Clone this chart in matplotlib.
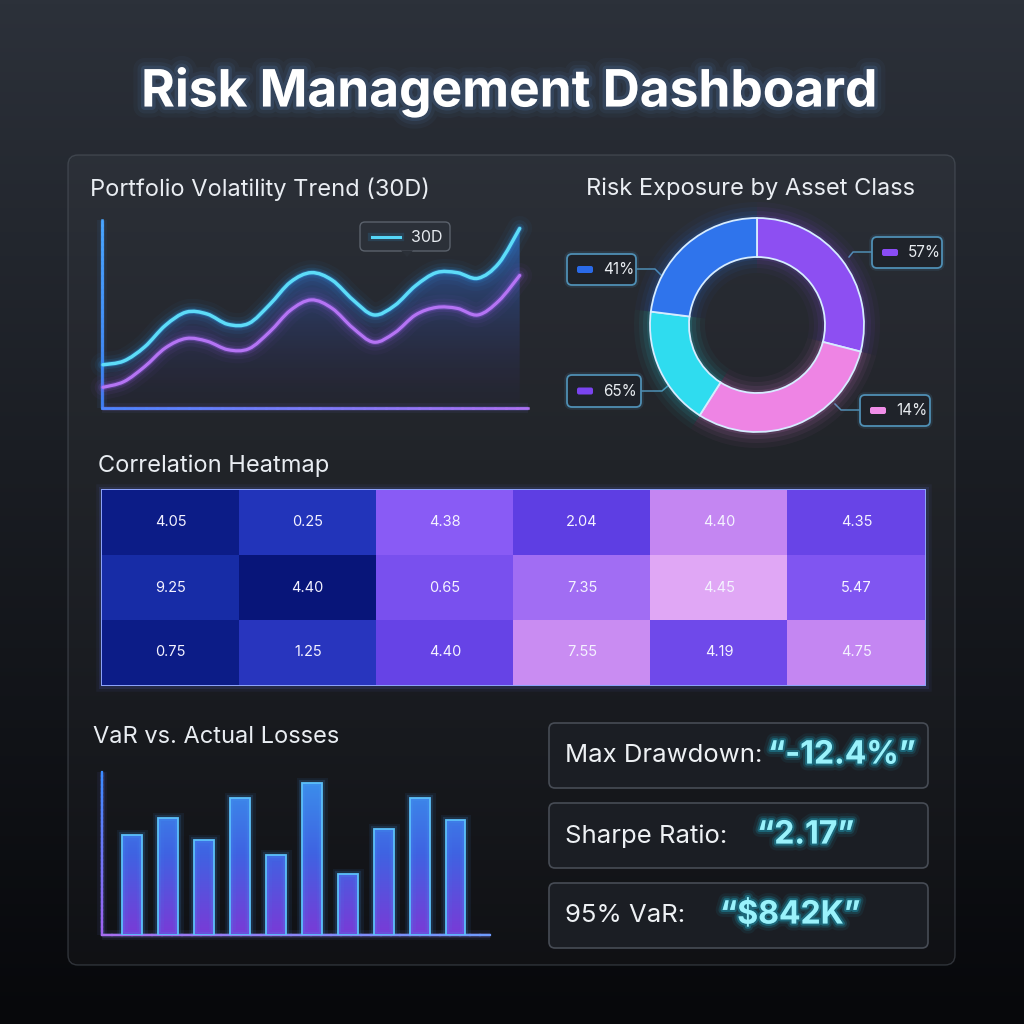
import numpy as np
import matplotlib
matplotlib.use("Agg")
import matplotlib.pyplot as plt
import matplotlib.patheffects as pe
from matplotlib.patches import FancyBboxPatch, Rectangle, Polygon, PathPatch
from matplotlib.colors import LinearSegmentedColormap, to_rgb
from matplotlib.collections import LineCollection
from matplotlib.path import Path

plt.rcParams['font.family'] = ['Inter', 'DejaVu Sans']

# ---- data ----
days = np.arange(0, 31, 1.5)
vol_30d = [4.6, 5.0, 6.5, 8.8, 10.2, 10.0, 8.9, 9.0, 11.0, 13.4, 14.4,
           13.6, 11.5, 9.9, 10.9, 13.0, 14.4, 14.4, 13.8, 15.4, 19.1]
vol_base = [2.2, 2.8, 4.4, 6.4, 7.4, 7.1, 6.2, 6.3, 8.1, 10.4, 11.5,
            10.6, 8.5, 7.0, 8.0, 9.9, 10.7, 10.6, 9.9, 11.4, 14.1]

asset_share = [29, 30, 18, 23]
asset_colors = ['#8d4ff2', '#ee84e4', '#2fdcef', '#2f74ec']
asset_labels = ['57%', '14%', '65%', '41%']
label_swatch = ['#8a4cf5', '#f08ee8', '#7a44f0', '#2a6ae8']

heat_vals = [[0.05, 0.22, 0.60, 0.42, 0.80, 0.46],
             [0.15, 0.00, 0.53, 0.68, 0.95, 0.56],
             [0.05, 0.24, 0.45, 0.83, 0.49, 0.80]]
heat_text = [["4.05", "0.25", "4.38", "2.04", "4.40", "4.35"],
             ["9.25", "4.40", "0.65", "7.35", "4.45", "5.47"],
             ["0.75", "1.25", "4.40", "7.55", "4.19", "4.75"]]

bar_days = np.arange(1, 11)
losses = [100, 117, 95, 137, 80, 152, 61, 106, 137, 115]

kpi_names = ["Max Drawdown:", "Sharpe Ratio:", "95% VaR:"]
kpi_values = ["\u201c-12.4%\u201d", "\u201c2.17\u201d", "\u201c$842K\u201d"]

W = H = 1024
fig = plt.figure(figsize=(10.24, 10.24), dpi=100)
bg = fig.add_axes([0, 0, 1, 1])
bg.set_xlim(0, W)
bg.set_ylim(H, 0)
bg.axis('off')


def px_axes(x0, y0, x1, y1):
    ax = fig.add_axes([x0 / W, 1 - y1 / H, (x1 - x0) / W, (y1 - y0) / H])
    ax.axis('off')
    return ax


def blend(c1, c2, t):
    a, b = np.array(to_rgb(c1)), np.array(to_rgb(c2))
    return a + (b - a) * t


def glow(color, widths=((10, 0.06), (6, 0.12), (3, 0.25))):
    return [pe.Stroke(linewidth=w, foreground=color, alpha=a) for w, a in widths] + [pe.Normal()]


def smooth_path(x, y):
    # curve drawn through the data points (Catmull-Rom as cubic Bezier)
    pts = np.column_stack([x, y]).astype(float)
    verts, codes = [pts[0]], [Path.MOVETO]
    n = len(pts)
    for i in range(n - 1):
        p0 = pts[i - 1] if i > 0 else pts[i]
        p1, p2 = pts[i], pts[i + 1]
        p3 = pts[i + 2] if i + 2 < n else pts[i + 1]
        verts += [p1 + (p2 - p0) / 6, p2 - (p3 - p1) / 6, p2]
        codes += [Path.CURVE4] * 3
    return verts, codes


def glow_curve(ax, xs, ys, color, halo, lw=2.0, z=3):
    verts, codes = smooth_path(xs, ys)
    path = Path(verts, codes)
    for w, a in [(18, 0.04), (12, 0.07), (7, 0.13), (4, 0.3)]:
        ax.add_patch(PathPatch(path, facecolor='none', edgecolor=halo, lw=w, alpha=a,
                               capstyle='round', clip_on=False, zorder=z))
    ax.add_patch(PathPatch(path, facecolor='none', edgecolor=color, lw=lw,
                           capstyle='round', clip_on=False, zorder=z))
    return verts, codes


def grad_line(ax, p0, p1, c0, c1, lw=1.6):
    n = 40
    xs = np.linspace(p0[0], p1[0], n)
    ys = np.linspace(p0[1], p1[1], n)
    cm = blend(c0, c1, 0.5)
    ax.plot([p0[0], p1[0]], [p0[1], p1[1]], color=cm, lw=7, alpha=0.07, solid_capstyle='butt')
    ax.plot([p0[0], p1[0]], [p0[1], p1[1]], color=cm, lw=3.5, alpha=0.15, solid_capstyle='butt')
    ax.plot([p0[0], p1[0]], [p0[1], p1[1]], color=cm, lw=lw, solid_capstyle='butt')
    segs = [[(xs[i], ys[i]), (xs[i + 1], ys[i + 1])] for i in range(n - 1)]
    cols = [blend(c0, c1, i / (n - 2)) for i in range(n - 1)]
    ax.add_collection(LineCollection(segs, colors=cols, linewidths=lw, capstyle='projecting'))


# background gradient
t = np.linspace(0, 1, 256)[:, None]
top, mid, bot = np.array(to_rgb('#2c313a')), np.array(to_rgb('#1a1d23')), np.array(to_rgb('#07080b'))
img = np.where(t[..., None] < 0.45, top + (mid - top) * (t[..., None] / 0.45),
               mid + (bot - mid) * ((t[..., None] - 0.45) / 0.55))
img = np.repeat(img, 4, axis=1)
bg.imshow(img, extent=[0, W, H, 0], aspect='auto', zorder=0)

# main panel
bg.add_patch(FancyBboxPatch((68, 155), 887, 810, boxstyle="round,pad=0,rounding_size=10",
                            facecolor='white', alpha=0.03, edgecolor='none', zorder=1))
bg.add_patch(FancyBboxPatch((68, 155), 887, 810, boxstyle="round,pad=0,rounding_size=10",
                            facecolor='none', edgecolor='#5a616b', alpha=0.45, lw=1.0, zorder=1))

# title
bg.text(509, 92, "Risk Management Dashboard", ha='center', va='center', fontsize=37,
        fontweight='bold', color='white', zorder=5,
        path_effects=glow('#5d8fd0', ((16, 0.05), (10, 0.08), (5, 0.16))))

# section titles
title_kw = dict(color='#e9edf2', fontsize=17, va='center', zorder=5)
bg.text(90, 189, "Portfolio Volatility Trend (30D)", ha='left', **title_kw)
bg.text(751, 189, "Risk Exposure by Asset Class", ha='center', **title_kw)
bg.text(98, 466, "Correlation Heatmap", ha='left', **title_kw)
bg.text(93, 737, "VaR vs. Actual Losses", ha='left', **title_kw)

# ---- line chart ----
ax_l = px_axes(102, 220, 528, 408)
ax_l.set_xlim(-0.07, 30.6)
ax_l.set_ylim(0, 20)
glow_curve(ax_l, days, vol_base, '#b574f4', '#9a5cf0', lw=2.3, z=3)
cv, cc = glow_curve(ax_l, days, vol_30d, '#5ddcf8', '#2c9cf2', lw=2.5, z=4)
fill_path = Path(cv + [(days[-1], 0), (days[0], 0), cv[0]],
                 cc + [Path.LINETO, Path.LINETO, Path.CLOSEPOLY])
fill_img = np.zeros((200, 2, 4))
c_top, c_bot = np.array(to_rgb('#2a78dc')), np.array(to_rgb('#3a2c78'))
for i in range(200):
    s = i / 199
    fill_img[i, :, :3] = c_bot + (c_top - c_bot) * s
    fill_img[i, :, 3] = 0.06 + 0.65 * s ** 1.3
im = ax_l.imshow(fill_img, extent=[-0.07, 30.6, 0, 20], origin='lower', aspect='auto', zorder=1)
im.set_clip_path(fill_path, ax_l.transData)

grad_line(bg, (102, 220), (102, 408), '#49a6ff', '#3d7df0', lw=1.8)
grad_line(bg, (102, 408), (528, 408), '#4a86ff', '#b070f0', lw=1.8)

# tooltip
bg.add_patch(FancyBboxPatch((360, 222), 90, 29, boxstyle="round,pad=0,rounding_size=5",
                            facecolor='#2b3038', edgecolor='#5b626c', lw=1.0, zorder=6))
bg.add_patch(Polygon([(401, 250.5), (413, 250.5), (407, 257)], closed=True,
                     facecolor='#2b3038', edgecolor='none', zorder=7))
bg.plot([372, 400], [237, 237], color='#55d6f7', lw=2.2, zorder=8,
        path_effects=glow('#2aa8f0', ((6, 0.15),)))
bg.text(411, 237, "30D", color='#e6eaef', fontsize=11.5, va='center', ha='left', zorder=8)

# ---- donut ----
ax_d = px_axes(627, 195, 887, 455)
R, Wd = 107, 39
for g, a in [(16, 0.04), (11, 0.06), (7, 0.08), (3, 0.12)]:
    ax_d.pie(asset_share, colors=asset_colors, startangle=90, counterclock=False, radius=R + g,
             wedgeprops=dict(width=Wd + 2 * g, edgecolor='none', alpha=a))
wedges, _ = ax_d.pie(asset_share, colors=asset_colors, startangle=90, counterclock=False, radius=R,
                     wedgeprops=dict(width=Wd, edgecolor='#d6ecff', linewidth=1.3))
ax_d.set_xlim(-130, 130)
ax_d.set_ylim(-130, 130)
ax_d.set_aspect('equal')

box_pos = [(872, 237, 942, 268), (860, 395, 930, 426), (567, 375, 641, 407), (567, 254, 636, 285)]
connectors = [[(872, 252), (853, 252), (849, 257)],
              [(860, 410), (841, 410), (835, 404)],
              [(641, 391), (662, 391), (669, 385)],
              [(636, 269), (655, 269), (661, 275)]]
for (x0, y0, x1, y1), lab, sw, con in zip(box_pos, asset_labels, label_swatch, connectors):
    bg.add_patch(FancyBboxPatch((x0, y0), x1 - x0, y1 - y0, boxstyle="round,pad=0,rounding_size=5",
                                facecolor='#1f232a', edgecolor='#4f8fb4', lw=1.3, zorder=6,
                                path_effects=[pe.Stroke(linewidth=4, foreground='#4f8fb4', alpha=0.15), pe.Normal()]))
    cy = (y0 + y1) / 2
    bg.add_patch(FancyBboxPatch((x0 + 10, cy - 3.5), 16, 7, boxstyle="round,pad=0,rounding_size=2",
                                facecolor=sw, edgecolor='none', zorder=7))
    bg.text(x0 + 36, cy, lab, color='#e8ecf0', fontsize=11, va='center', ha='left', zorder=7)
    xs, ys = zip(*con)
    bg.plot(xs, ys, color='#4f8fb4', lw=1.1, zorder=5)

# ---- heatmap ----
heat_cmap = LinearSegmentedColormap.from_list(
    'heat', ['#081579', '#1d34b6', '#5a3be2', '#8a5cf5', '#c486f2', '#e9b2f6'])
ax_h = px_axes(102, 490, 925, 685)
ax_h.imshow(heat_vals, cmap=heat_cmap, vmin=0, vmax=1, aspect='auto', interpolation='nearest')
for i, row in enumerate(heat_text):
    for j, s in enumerate(row):
        ax_h.text(j, i, s, ha='center', va='center', color='#f4f2ff', fontsize=10.5)
bg.add_patch(Rectangle((102, 490), 823, 195, facecolor='none', edgecolor='#8fa6ff', lw=1.4, zorder=6,
                       path_effects=glow('#6a7dff', ((9, 0.06), (5, 0.12)))))

# ---- bars ----
ax_b = px_axes(102, 772, 490, 935)
ax_b.set_xlim(0.165, 10.96)
ax_b.set_ylim(0, 163)
bars = ax_b.bar(bar_days, losses, width=0.556, color='none', edgecolor='#5cc0fa', lw=1.3, zorder=3)
for b in bars:
    b.set_path_effects([pe.Stroke(linewidth=8, foreground='#3f8ef0', alpha=0.08),
                        pe.Stroke(linewidth=4.5, foreground='#4aa0f5', alpha=0.15), pe.Normal()])
bar_img = np.zeros((200, 2, 3))
b_top, b_mid, b_bot = np.array(to_rgb('#3b93ec')), np.array(to_rgb('#3f63e2')), np.array(to_rgb('#7a3ad6'))
for i in range(200):
    s = i / 199
    bar_img[i, :] = b_bot + (b_mid - b_bot) * (s / 0.5) if s < 0.5 else b_mid + (b_top - b_mid) * ((s - 0.5) / 0.5)
bim = ax_b.imshow(bar_img, extent=[0.165, 10.96, 0, 163], origin='lower', aspect='auto', zorder=2)
compound = Path.make_compound_path(*[b.get_path().transformed(b.get_patch_transform()) for b in bars])
bim.set_clip_path(compound, ax_b.transData)

grad_line(bg, (102, 772), (102, 935), '#3a8cff', '#a062f0', lw=1.6)
grad_line(bg, (102, 935), (490, 935), '#a86ef0', '#6f9cff', lw=1.6)

# ---- KPI cards ----
card_y = [723, 803, 883]
value_x = [768, 757, 720]
for y0, name, val, vx in zip(card_y, kpi_names, kpi_values, value_x):
    bg.add_patch(FancyBboxPatch((549, y0), 379, 65, boxstyle="round,pad=0,rounding_size=6",
                                facecolor='#1b1e24', edgecolor='#474c55', lw=1.2, zorder=4))
    bg.text(565, y0 + 33, name, color='#eef1f4', fontsize=18.5, va='center', ha='left', zorder=6)
    bg.text(vx, y0 + 32, val, color='#9af2fb', fontsize=23, fontweight='bold', va='center',
            ha='left', zorder=6, path_effects=glow('#1fc4e6', ((10, 0.07), (6, 0.15), (3, 0.3))))

fig.savefig("out.png", dpi=100, facecolor='#15171c')
